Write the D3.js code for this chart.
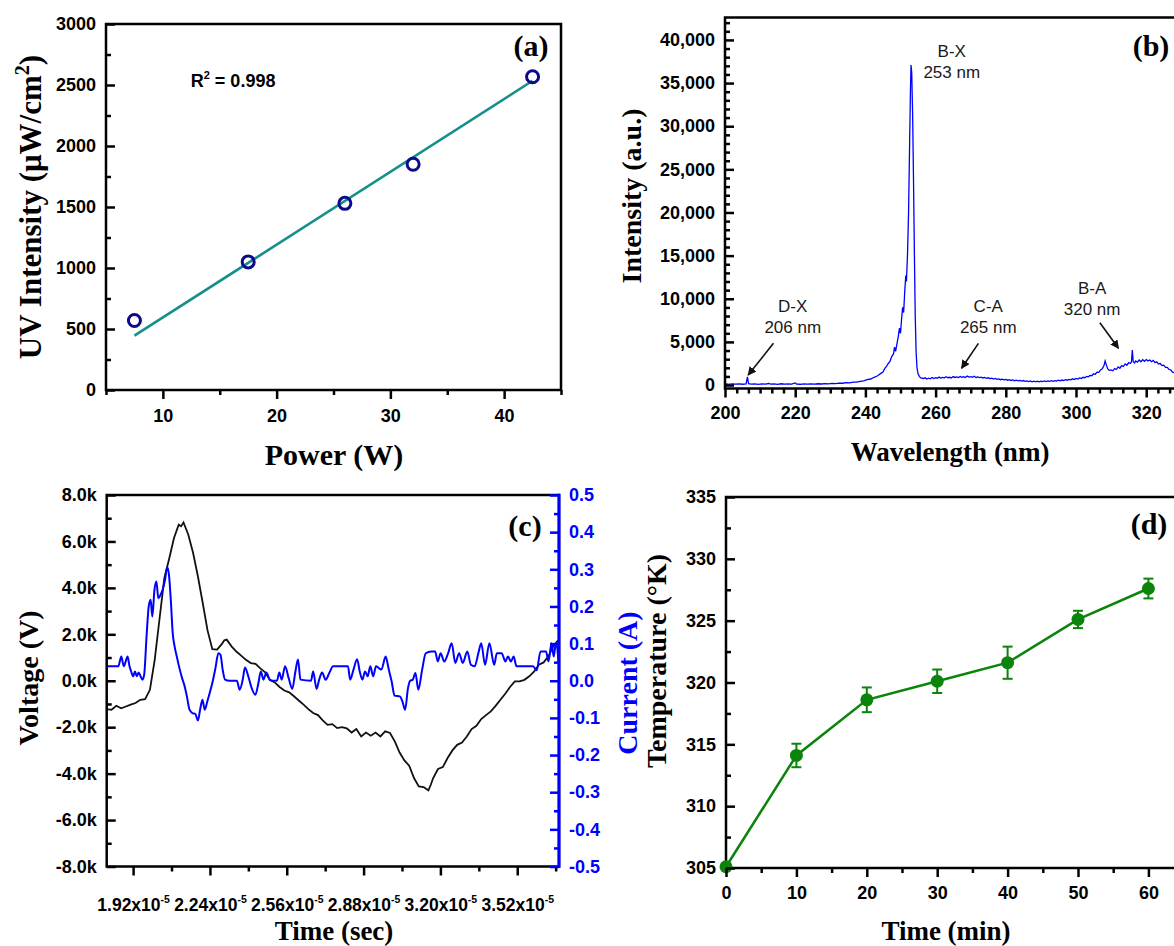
<!DOCTYPE html>
<meta charset="utf-8">
<title>UV lamp characterisation</title>
<style>
body { margin: 0; background: #fff; }
svg { display: block; }
.tick text {
  font-family: "Liberation Sans", Arial, sans-serif;
  font-weight: bold;
  font-size: 18px;
}
.ttl {
  font-family: "Liberation Serif", "Times New Roman", serif;
  font-weight: bold;
}
.note {
  font-family: "Liberation Sans", Arial, sans-serif;
  font-size: 17px;
  fill: #1a1a1a;
}
</style>
<body>

<script src="https://d3js.org/d3.v7.min.js"></script>
<script>

// ---- data -------------------------------------------------------------

// (a) UV intensity vs lamp power
var powerW = [7.5, 17.5, 26, 32, 42.5];
var uvIntensity = [570, 1050, 1530, 1850, 2568];
var fitLine = [[7.5, 445], [42.5, 2535]];   // drawn linear fit, R^2 = 0.998

// (b) emission spectrum [wavelength nm, intensity a.u.]
var spectrum = [
  [200,120],[201,90],[202,140],[203,100],[204,130],[205,95],[206,140],[206.4,960],[206.7,150],
  [207.5,110],[208.5,130],[209.5,90],[210.5,140],[211.5,100],[212.5,180],[213,110],[214,130],
  [215,90],[216,150],[217,110],[218,130],[219,100],[220,240],[220.4,120],[221.5,90],[222.5,130],
  [223.5,100],[224.5,140],[225.5,110],[226.5,150],[227.5,120],[228.5,170],[229.5,140],[230.5,190],
  [231.5,170],[232.5,230],[233.5,210],[234.5,280],[235.5,260],[236.5,340],[237.5,330],[238.5,430],
  [239.5,480],[240.5,620],[241.5,700],[242.5,900],[243.5,1080],[244.5,1380],[245,1500],[245.5,1900],
  [246,2150],[246.5,2500],[247,2750],[247.5,3300],[248,3600],[248.3,4400],[248.6,3900],[249,4800],
  [249.4,5700],[249.7,6600],[250,6000],[250.3,7600],[250.6,9000],[250.9,8400],[251.2,10800],
  [251.5,12700],[251.7,12000],[252,15200],[252.3,20000],[252.6,28000],[252.85,34500],[253,37100],
  [253.2,36200],[253.45,31500],[253.7,24000],[253.95,15500],[254.2,8000],[254.45,3800],[254.7,2000],
  [255,1300],[255.4,980],[255.8,820],[256.5,760],
  [257,840],[257.5,700],[258,800],[258.5,730],[259,880],[259.5,760],[260,850],[260.5,790],
  [261,920],[261.5,800],[262,880],[262.5,830],[263,960],[263.5,850],[264,900],[264.5,820],
  [265,980],[265.5,880],[266,940],[266.5,870],[267,1000],[267.5,900],[268,960],[268.5,880],
  [269,1040],[269.5,920],[270,980],[270.5,900],[271,1020],[271.5,880],[272,940],[272.5,860],
  [273,920],[273.5,820],[274,880],[274.5,780],[275,840],[275.5,740],[276,800],[276.5,700],
  [277,760],[277.5,660],[278,720],[278.5,620],[279,680],[279.5,600],[280,650],[280.5,560],
  [281,620],[281.5,530],[282,590],[282.5,500],[283,560],[283.5,480],[284,540],[284.5,450],
  [285,520],[285.5,430],[286,490],[286.5,410],[287,470],[287.5,380],[288,450],[288.5,380],
  [289,460],[289.5,370],[290,440],[290.5,390],[291,470],[291.5,400],[292,480],[292.5,420],
  [293,500],[293.5,440],[294,520],[294.5,460],[295,560],[295.5,490],[296,580],[296.5,520],
  [297,620],[297.5,560],[298,660],[298.5,600],[299,720],[299.5,640],[300,760],[300.5,700],
  [301,820],[301.5,760],[302,900],[302.5,850],[303,1000],[303.5,950],[304,1120],[304.5,1080],
  [305,1300],[305.5,1250],[306,1500],[306.5,1480],[307,1750],[307.5,1900],[308,2300],[308.3,2800],
  [308.6,2400],[309,1900],[309.5,1700],[310,1750],[310.5,1650],[311,1900],[311.5,1800],[312,2100],
  [312.5,1950],[313,2250],[313.5,2150],[314,2450],[314.5,2300],[315,2600],[315.5,2500],[315.8,2700],
  [316.05,4050],[316.3,2700],[316.7,2550],[317,2800],[317.5,2650],[318,2900],[318.5,2700],[319,2950],
  [319.5,2750],[320,2950],[320.5,2800],[321,2900],[321.5,2700],[322,2850],[322.5,2600],[323,2700],
  [323.5,2450],[324,2500],[324.5,2250],[325,2300],[325.5,2050],[326,2050],[326.5,1800],[327,1750],
  [327.5,1500],[328,1450],[328.5,1250],[329,1200],[330,1050],[331,950],[332,850],[334,780],
  [336,700],[338,650],[340,600]
];
var bands = [
  { lines: ["B-X", "253 nm"], at: [264.6, 37990] },
  { lines: ["D-X", "206 nm"], at: [219.3, 8460], from: [213.8, 4835], to: [206.6, 1160] },
  { lines: ["C-A", "265 nm"], at: [275.0, 8460], from: [272.2, 4835], to: [267.4, 1940] },
  { lines: ["B-A", "320 nm"], at: [304.6, 10550], from: [306.8, 7220], to: [312.1, 4255] }
];

// (c) discharge waveforms, time in units of 1e-5 s
var voltage = [ // [t, kV]
  [1.81,-1.22],[1.83,-1.25],[1.85,-1.08],[1.87,-1.19],[1.89,-1.11],[1.91,-1.03],[1.93,-0.96],
  [1.95,-0.82],[1.97,-0.79],[1.99,-0.39],[2.01,0.90],[2.03,2.66],[2.05,4.42],[2.07,5.24],
  [2.09,6.14],[2.11,6.72],[2.12,6.65],[2.13,6.82],[2.15,6.29],[2.17,5.50],[2.19,4.49],[2.21,3.35],
  [2.23,2.17],[2.25,1.36],[2.27,1.34],[2.29,1.59],[2.30,1.74],[2.31,1.77],[2.33,1.48],[2.35,1.26],
  [2.37,1.08],[2.39,0.90],[2.41,0.76],[2.43,0.73],[2.45,0.53],[2.47,0.36],[2.49,0.04],[2.51,-0.07],
  [2.53,-0.27],[2.55,-0.42],[2.57,-0.50],[2.59,-0.67],[2.61,-0.85],[2.63,-1.03],[2.65,-1.22],
  [2.67,-1.39],[2.69,-1.48],[2.71,-1.71],[2.73,-1.90],[2.75,-1.87],[2.77,-2.04],[2.79,-2.00],
  [2.81,-2.05],[2.83,-2.23],[2.85,-2.08],[2.87,-2.40],[2.89,-2.23],[2.91,-2.37],[2.93,-2.23],
  [2.95,-2.40],[2.97,-2.18],[2.99,-2.25],[3.01,-2.61],[3.03,-3.09],[3.05,-3.43],[3.07,-3.66],
  [3.09,-4.19],[3.11,-4.55],[3.13,-4.58],[3.15,-4.72],[3.16,-4.48],[3.17,-4.19],[3.19,-3.80],
  [3.21,-3.72],[3.23,-3.33],[3.25,-3.00],[3.27,-2.76],[3.29,-2.66],[3.31,-2.40],[3.33,-2.08],
  [3.35,-1.94],[3.37,-1.65],[3.39,-1.48],[3.41,-1.32],[3.43,-1.08],[3.45,-0.82],[3.47,-0.56],
  [3.49,-0.27],[3.51,-0.03],[3.53,-0.03],[3.55,0.04],[3.57,0.19],[3.59,0.39],[3.61,0.69],
  [3.63,0.79],[3.65,1.05],[3.67,1.48],[3.69,1.74]
];
var current = [ // [t, A]
  [1.809,0.039],[1.858,0.039],[1.871,0.065],[1.881,0.039],[1.897,0.065],[1.905,0.039],[1.912,0.025],
  [1.920,0.012],[1.928,0.025],[1.935,0.012],[1.943,0.022],[1.951,0.012],[1.959,0.003],[1.966,0.016],
  [1.976,0.119],[1.985,0.200],[1.993,0.218],[2.000,0.173],[2.009,0.245],[2.017,0.267],[2.025,0.222],
  [2.034,0.231],[2.043,0.245],[2.053,0.272],[2.062,0.306],[2.070,0.281],[2.077,0.218],[2.085,0.128],
  [2.093,0.092],[2.102,0.065],[2.113,0.034],[2.124,0.007],[2.133,-0.011],[2.144,-0.042],[2.155,-0.078],
  [2.167,-0.087],[2.179,-0.089],[2.190,-0.107],[2.199,-0.078],[2.209,-0.051],[2.218,-0.078],
  [2.229,-0.056],[2.239,-0.033],[2.250,-0.006],[2.263,0.034],[2.275,0.074],[2.284,0.070],[2.293,0.030],
  [2.303,0.003],[2.321,0.0],[2.352,0.0],[2.364,-0.024],[2.377,0.004],[2.386,0.036],[2.398,0.016],
  [2.414,-0.020],[2.429,-0.038],[2.442,-0.006],[2.452,0.025],[2.463,0.003],[2.475,0.022],[2.491,0.001],
  [2.519,0.0],[2.529,0.022],[2.539,0.003],[2.553,0.039],[2.568,0.007],[2.583,-0.022],[2.596,0.025],
  [2.607,0.057],[2.617,0.003],[2.661,0.0],[2.670,0.025],[2.684,-0.022],[2.695,0.003],[2.707,0.022],
  [2.722,0.003],[2.738,0.022],[2.753,0.039],[2.815,0.039],[2.824,0.003],[2.838,0.030],[2.853,0.058],
  [2.864,0.025],[2.875,0.003],[2.886,0.025],[2.897,0.012],[2.908,0.039],[2.920,0.012],[2.932,0.039],
  [2.954,0.030],[2.972,0.065],[2.985,0.030],[2.997,-0.002],[3.009,-0.040],[3.031,-0.042],
  [3.042,-0.056],[3.053,-0.078],[3.065,-0.020],[3.074,0.0],[3.085,0.003],[3.096,0.021],[3.108,-0.024],
  [3.124,0.030],[3.139,0.074],[3.162,0.079],[3.178,0.079],[3.189,0.052],[3.201,0.074],[3.216,0.052],
  [3.232,0.074],[3.247,0.101],[3.262,0.048],[3.278,0.074],[3.293,0.048],[3.312,0.079],[3.327,0.043],
  [3.343,0.039],[3.358,0.074],[3.370,0.101],[3.386,0.043],[3.404,0.101],[3.424,0.043],[3.435,0.074],
  [3.455,0.074],[3.471,0.052],[3.481,0.065],[3.494,0.052],[3.505,0.065],[3.517,0.039],[3.586,0.039],
  [3.601,0.028],[3.617,0.079],[3.640,0.079],[3.650,0.052],[3.663,0.101],[3.672,0.065],[3.681,0.101],
  [3.694,0.039]
];
var timeTicks = [1.92, 2.24, 2.56, 2.88, 3.20, 3.52];

// (d) lamp temperature vs running time
var timeMin = [0, 10, 20, 30, 40, 50, 60];
var tempK = [305.1, 314.1, 318.6, 320.1, 321.6, 325.1, 327.6];
var tempErr = [0.1, 0.95, 1.0, 0.95, 1.3, 0.7, 0.8];

// ---- chart -------------------------------------------------------------

var width = 1174, height = 946;

var svg = d3.select("body").append("svg")
    .attr("width", width)
    .attr("height", height);

svg.append("defs").append("marker")
    .attr("id", "head")
    .attr("viewBox", "0 0 10 10")
    .attr("refX", 9).attr("refY", 5)
    .attr("markerWidth", 5.5).attr("markerHeight", 5.5)
    .attr("orient", "auto")
  .append("path")
    .attr("d", "M0,0L10,5L0,10z")
    .attr("fill", "#111");

// axis helper: major ticks with labels + shorter minor ticks
function addAxis(kind, scale, at, major, minor, o) {
  var maker = kind == "bottom" ? d3.axisBottom : kind == "left" ? d3.axisLeft : d3.axisRight;
  var tr = kind == "bottom" ? "translate(0," + at + ")" : "translate(" + at + ",0)";
  var dir = o.inward ? -1 : 1;
  var color = o.color || "#000";
  var gMin = svg.append("g").attr("transform", tr)
      .call(maker(scale).tickValues(minor).tickSize(dir * 5).tickFormat(""));
  var gMaj = svg.append("g").attr("transform", tr)
      .call(maker(scale).tickValues(major).tickSize(dir * 9)
        .tickPadding(o.pad).tickFormat(o.fmt || ""));
  [gMin, gMaj].forEach(function(g) {
    g.select(".domain").remove();
    g.selectAll(".tick line").attr("stroke", color).attr("stroke-width", 2.5);
    g.selectAll(".tick text").attr("fill", color);
  });
  return gMaj;
}

function frame(x0, y0, x1, y1) {
  svg.append("rect")
      .attr("x", x0).attr("y", y0)
      .attr("width", x1 - x0).attr("height", y1 - y0)
      .attr("fill", "none")
      .attr("stroke", "#000")
      .attr("stroke-width", 2.5);
}

function title(txt, x, y, size, rot, color) {
  var t = svg.append("text")
      .attr("class", "ttl")
      .attr("text-anchor", "middle")
      .attr("font-size", size)
      .attr("fill", color || "#000")
      .attr("transform", "translate(" + x + "," + y + ")" + (rot ? " rotate(-90)" : ""));
  if (typeof txt == "string") t.text(txt);
  return t;
}

function others(lo, hi, step, major) {
  return d3.range(lo, hi + 1e-9, step).filter(function(v) {
    return !major.some(function(m) { return Math.abs(m - v) < 1e-6; });
  });
}

// ===== (a) =====
var xa = d3.scaleLinear().domain([5, 45]).range([106, 561]);
var ya = d3.scaleLinear().domain([0, 3000]).range([390, 24]);

svg.append("path")
    .datum(fitLine)
    .attr("d", d3.line().x(function(d) { return xa(d[0]); }).y(function(d) { return ya(d[1]); }))
    .attr("fill", "none")
    .attr("stroke", "#13908a")
    .attr("stroke-width", 2.6);

svg.append("g").selectAll("circle")
    .data(powerW)
  .enter().append("circle")
    .attr("cx", function(d) { return xa(d); })
    .attr("cy", function(d, i) { return ya(uvIntensity[i]); })
    .attr("r", 6)
    .attr("fill", "none")
    .attr("stroke", "#0a0a8a")
    .attr("stroke-width", 3);

frame(106, 24, 561, 390);
addAxis("bottom", xa, 390, [10, 20, 30, 40], [5, 15, 25, 35, 45], { pad: 10, fmt: d3.format("d") });
addAxis("left", ya, 106, d3.range(0, 3001, 500), d3.range(250, 3000, 500),
        { inward: true, pad: 10, fmt: d3.format("d") });

var r2 = svg.append("text")
    .attr("x", xa(12.45)).attr("y", ya(2483))
    .attr("font-family", "Liberation Sans, Arial, sans-serif")
    .attr("font-weight", "bold").attr("font-size", 18);
r2.append("tspan").text("R");
r2.append("tspan").attr("font-size", 11).attr("dy", -8).text("2");
r2.append("tspan").attr("dy", 8).text(" = 0.998");

title("(a)", 531, 56, 30);
title("Power (W)", 334, 465, 30);
var la = title(null, 41, 207, 31, true);
la.append("tspan").text("UV Intensity (\u03bcW/cm");
la.append("tspan").attr("font-size", 20).attr("dy", -12).text("2");
la.append("tspan").attr("dy", 12).text(")");

// ===== (b) =====
var xb = d3.scaleLinear().domain([200, 340]).range([725, 725 + 140 * 3.51]);
var yb = d3.scaleLinear().domain([-400, 42600]).range([388.5, 17.5]);

svg.append("path")
    .datum(spectrum)
    .attr("d", d3.line().x(function(d) { return xb(d[0]); }).y(function(d) { return yb(d[1]); }))
    .attr("fill", "none")
    .attr("stroke", "#0000ff")
    .attr("stroke-width", 1.3);

frame(725, 17.5, xb(340), 388.5);
addAxis("bottom", xb, 388.5, d3.range(200, 321, 20), others(200, 340, 20 / 6, d3.range(200, 341, 20)),
        { pad: 9, fmt: d3.format("d") });
addAxis("left", yb, 725, d3.range(0, 40001, 5000), others(0, 42000, 1000, d3.range(0, 40001, 5000)),
        { inward: true, pad: 10, fmt: d3.format(",") });

bands.forEach(function(b) {
  var t = svg.append("text").attr("class", "note").attr("text-anchor", "middle");
  b.lines.forEach(function(s, i) {
    t.append("tspan").attr("x", xb(b.at[0])).attr("y", yb(b.at[1]) + i * 21).text(s);
  });
  if (b.from) {
    svg.append("line")
        .attr("x1", xb(b.from[0])).attr("y1", yb(b.from[1]))
        .attr("x2", xb(b.to[0])).attr("y2", yb(b.to[1]))
        .attr("stroke", "#111").attr("stroke-width", 1.6)
        .attr("marker-end", "url(#head)");
  }
});

title("(b)", 1151, 56, 30);
title("Wavelength (nm)", 950, 461, 27);
title("Intensity (a.u.)", 641, 196, 28, true);

// ===== (c) =====
var xc = d3.scaleLinear().domain([1.81, 3.694]).range([106.7, 559]);
var yc = d3.scaleLinear().domain([-8, 8]).range([866.5, 495]);
var yc2 = d3.scaleLinear().domain([-0.5, 0.5]).range([866.5, 495]);

svg.append("path")
    .datum(voltage)
    .attr("d", d3.line().x(function(d) { return xc(d[0]); }).y(function(d) { return yc(d[1]); }))
    .attr("fill", "none").attr("stroke", "#111").attr("stroke-width", 1.8);

svg.append("path")
    .datum(current)
    .attr("d", d3.line().curve(d3.curveMonotoneX)
      .x(function(d) { return xc(d[0]); }).y(function(d) { return yc2(d[1]); }))
    .attr("fill", "none").attr("stroke", "#0000ff").attr("stroke-width", 2);

frame(106.7, 495, 559, 866.5);
svg.append("line")
    .attr("x1", 559).attr("x2", 559).attr("y1", 493.8).attr("y2", 867.7)
    .attr("stroke", "#0000ff").attr("stroke-width", 3);

var gx = addAxis("bottom", xc, 866.5, timeTicks, [2.08, 2.40, 2.72, 3.04, 3.36, 3.68], { pad: 23 });
gx.selectAll(".tick text").style("font-size", "17.5px").each(function(d) {
  var t = d3.select(this);
  t.append("tspan").text(d.toFixed(2) + "x10");
  t.append("tspan").attr("font-size", 10.5).attr("dy", -8).text("-5");
});
addAxis("left", yc, 106.7, d3.range(-8, 8.1, 2), d3.range(-7, 7.1, 2),
        { inward: true, pad: 10, fmt: function(d) { return d.toFixed(1) + "k"; } });
addAxis("right", yc2, 559, d3.range(-5, 6).map(function(v) { return v / 10; }),
        d3.range(-4.5, 4.6, 1).map(function(v) { return v / 10; }),
        { inward: true, pad: 10, color: "#0000ff", fmt: function(d) { return d.toFixed(1); } });

title("(c)", 525, 536, 30);
title("Time (sec)", 334, 940, 27);
title("Voltage (V)", 38, 678, 28, true);
title("Current (A)", 637, 683, 28, true, "#0000ff");

// ===== (d) =====
var xd = d3.scaleLinear().domain([0, 65]).range([726, 726 + 65 * 7.04]);
var yd = d3.scaleLinear().domain([305, 335]).range([868, 497]);
var green = "#0b840b";

svg.append("path")
    .datum(timeMin)
    .attr("d", d3.line().x(function(d) { return xd(d); }).y(function(d, i) { return yd(tempK[i]); }))
    .attr("fill", "none").attr("stroke", green).attr("stroke-width", 2.5);

var eb = svg.append("g").attr("stroke", green).attr("stroke-width", 2)
    .selectAll("g").data(timeMin).enter().append("g");
eb.append("line")
    .attr("x1", function(d) { return xd(d); }).attr("x2", function(d) { return xd(d); })
    .attr("y1", function(d, i) { return yd(tempK[i] - tempErr[i]); })
    .attr("y2", function(d, i) { return yd(tempK[i] + tempErr[i]); });
[-1, 1].forEach(function(s) {
  eb.append("line")
      .attr("x1", function(d) { return xd(d) - 5; }).attr("x2", function(d) { return xd(d) + 5; })
      .attr("y1", function(d, i) { return yd(tempK[i] + s * tempErr[i]); })
      .attr("y2", function(d, i) { return yd(tempK[i] + s * tempErr[i]); });
});

frame(726, 497, xd(65), 868);

svg.append("g").selectAll("circle")
    .data(timeMin)
  .enter().append("circle")
    .attr("cx", function(d) { return xd(d); })
    .attr("cy", function(d, i) { return yd(tempK[i]); })
    .attr("r", 6.5)
    .attr("fill", green);

addAxis("bottom", xd, 868, d3.range(0, 61, 10), d3.range(5, 66, 10), { pad: 9, fmt: d3.format("d") });
addAxis("left", yd, 726, d3.range(305, 336, 5), d3.range(307.5, 335, 5),
        { inward: true, pad: 10, fmt: d3.format("d") });

title("(d)", 1149, 534, 30);
title("Time (min)", 946, 940, 27);
title("Temperature (\u00b0K)", 666, 661, 28, true);

</script>
</body>
